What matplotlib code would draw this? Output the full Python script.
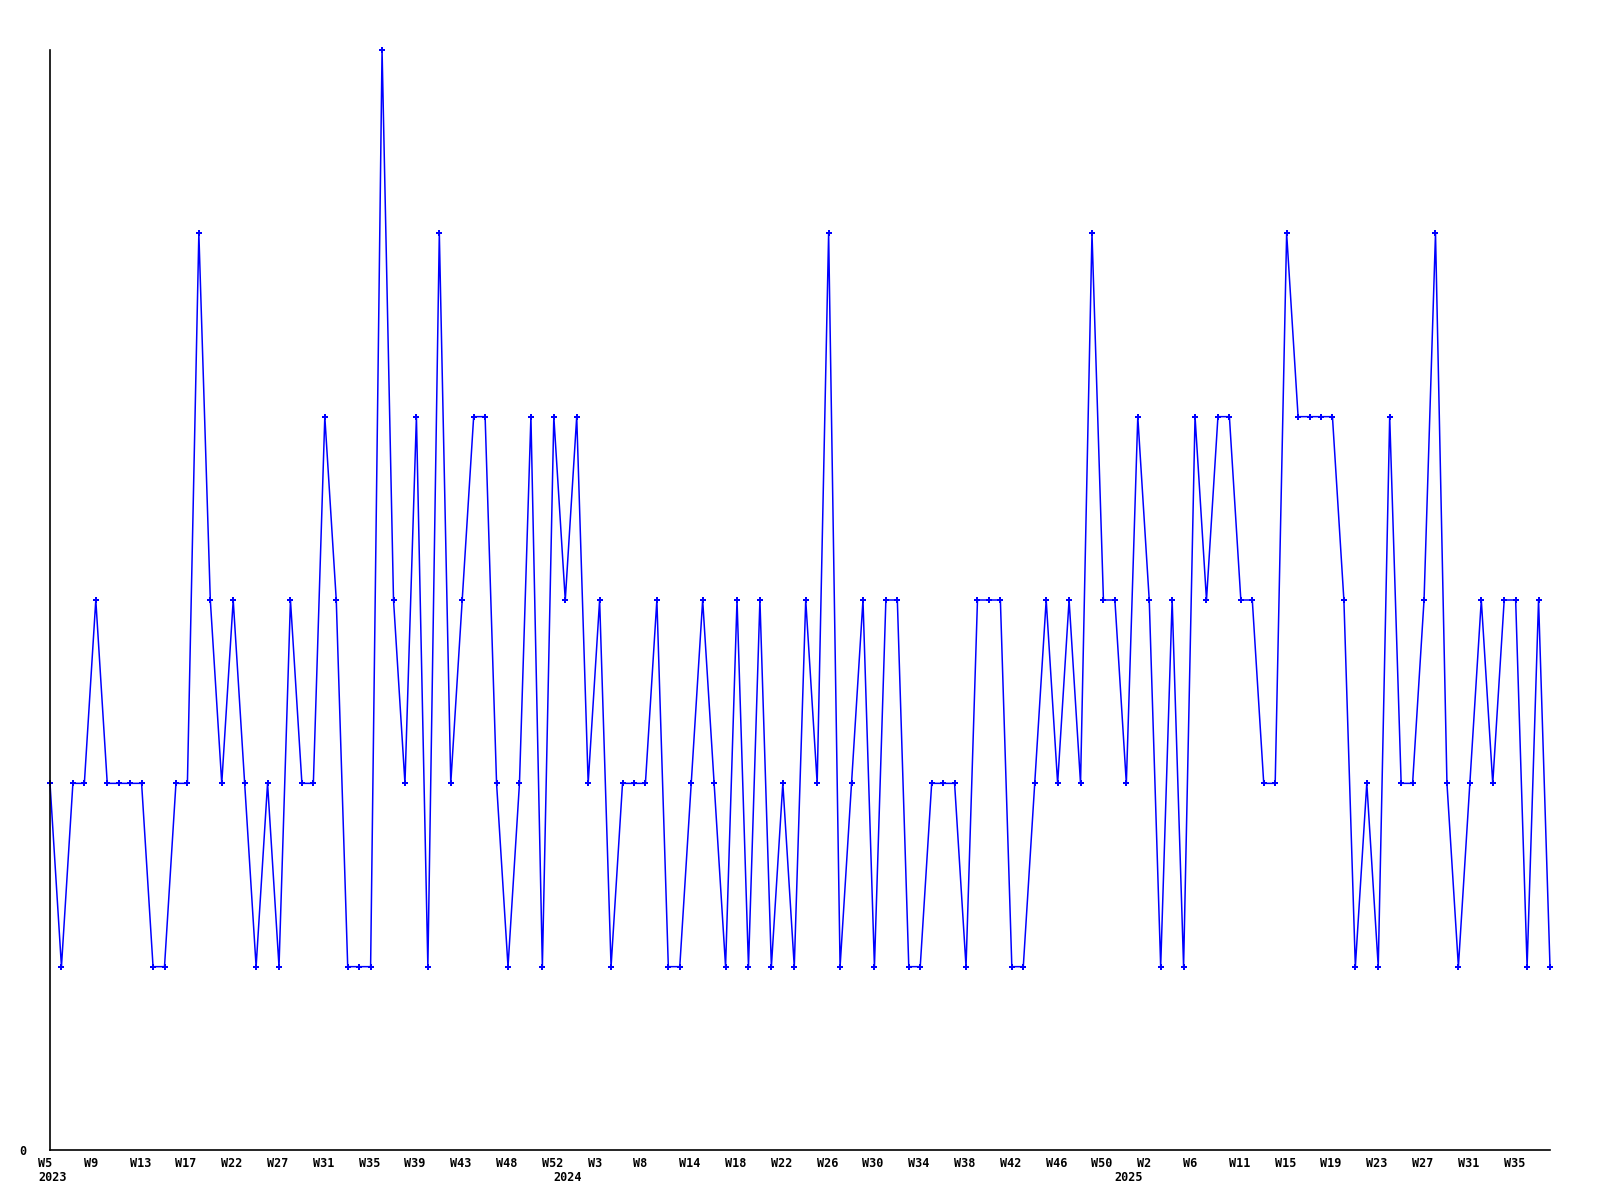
import matplotlib.pyplot as plt
from matplotlib.transforms import ScaledTranslation, blended_transform_factory

# weekly values, one per point (132 points)
values = [
    2, 1, 2, 2, 3, 2, 2, 2, 2, 1, 1, 2, 2, 5, 3, 2, 3, 2, 1, 2, 1, 3,
    2, 2, 4, 3, 1, 1, 1, 6, 3, 2, 4, 1, 5, 2, 3, 4, 4, 2, 1, 2, 4, 1,
    4, 3, 4, 2, 3, 1, 2, 2, 2, 3, 1, 1, 2, 3, 2, 1, 3, 1, 3, 1, 2, 1,
    3, 2, 5, 1, 2, 3, 1, 3, 3, 1, 1, 2, 2, 2, 1, 3, 3, 3, 1, 1, 2, 3,
    2, 3, 2, 5, 3, 3, 2, 4, 3, 1, 3, 1, 4, 3, 4, 4, 3, 3, 2, 2, 5, 4,
    4, 4, 4, 3, 1, 2, 1, 4, 2, 2, 3, 5, 2, 1, 2, 3, 2, 3, 3, 1, 3, 1,
]

# every 4th point is labelled
week_labels = [
    "W5", "W9", "W13", "W17", "W22", "W27", "W31", "W35", "W39", "W43",
    "W48", "W52", "W3", "W8", "W14", "W18", "W22", "W26", "W30", "W34",
    "W38", "W42", "W46", "W50", "W2", "W6", "W11", "W15", "W19", "W23",
    "W27", "W31", "W35",
]
label_step = 4

# first point of each year
year_index = [0, 45, 94]
year_labels = ["2023", "2024", "2025"]

line_color = "#0000ff"
font = dict(family="DejaVu Sans Mono", weight="bold", size=8.5)

fig = plt.figure(figsize=(16, 12), dpi=100)
ax = fig.add_axes([50 / 1600, 50 / 1200, 1500 / 1600, 1100 / 1200])

x = list(range(len(values)))
ax.plot(x, values, color=line_color, linewidth=1.1, marker="P",
        markersize=4, markeredgewidth=0, clip_on=False)

ax.set_xlim(0, len(values) - 1)
ax.set_ylim(0, 6)
ax.spines["top"].set_visible(False)
ax.spines["right"].set_visible(False)
ax.spines["left"].set_linewidth(1.2)
ax.spines["bottom"].set_linewidth(1.2)

ax.set_yticks([0])
ax.set_yticklabels(["0"], fontdict=font)
ax.tick_params(axis="y", length=0, pad=17)

ax.set_xticks(x[::label_step])
ax.set_xticklabels(week_labels, fontdict=font)
ax.tick_params(axis="x", length=0, pad=5)
shift = ScaledTranslation(-12 / 100, 0, fig.dpi_scale_trans)
for lbl in ax.get_xticklabels():
    lbl.set_horizontalalignment("left")
    lbl.set_transform(lbl.get_transform() + shift)

trans = blended_transform_factory(ax.transData, ax.transAxes)
for idx, yr in zip(year_index, year_labels):
    ax.text(idx, 0, yr, transform=trans + ScaledTranslation(-12 / 100, -21 / 100, fig.dpi_scale_trans),
            ha="left", va="top", **font)

fig.savefig("out.png", dpi=100)
